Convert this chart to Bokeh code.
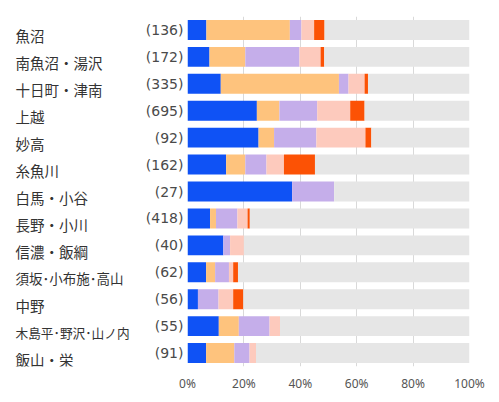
from bokeh.plotting import figure
from bokeh.layouts import row
from bokeh.models import Range1d, FixedTicker, ColumnDataSource
from bokeh.embed import file_html
from bokeh.resources import INLINE

areas = ["魚沼", "南魚沼・湯沢", "十日町・津南", "上越", "妙高", "糸魚川", "白馬・小谷",
         "長野・小川", "信濃・飯綱", "須坂･小布施･高山", "中野", "木島平･野沢･山ノ内", "飯山・栄"]
counts = [136, 172, 335, 695, 92, 162, 27, 418, 40, 62, 56, 55, 91]

s1 = [6.7, 7.8, 11.8, 24.6, 25.2, 13.7, 37.1, 8.0, 12.7, 6.6, 3.7, 11.1, 6.6]
s2 = [29.6, 12.7, 41.9, 8.0, 5.5, 6.8, 0.0, 2.1, 0.0, 3.2, 0.0, 7.1, 10.0]
s3 = [4.1, 19.2, 3.4, 13.4, 15.0, 7.5, 14.9, 7.6, 2.4, 4.9, 7.3, 10.9, 5.4]
s4 = [4.5, 7.5, 5.7, 11.7, 17.4, 6.2, 0.0, 3.6, 4.9, 1.5, 5.2, 3.7, 2.3]
s5 = [3.7, 1.3, 1.2, 5.1, 2.1, 11.0, 0.0, 0.8, 0.0, 1.7, 3.6, 0.0, 0.0]

x_ticks = [0, 20, 40, 60, 80, 100]
x_tick_labels = ["0%", "20%", "40%", "60%", "80%", "100%"]

colors = ["#0f52f5", "#fec37d", "#c5aeea", "#fdcabd", "#fc5205", "#e6e6e6"]
name_sizes = ["14.5px"] * 9 + ["13.5px", "14.5px", "12.7px", "14.5px"]

n = len(areas)
ys = [n - 1 - i for i in range(n)]
rest = [max(0.0, 100 - (a + b + c + d + e)) for a, b, c, d, e in zip(s1, s2, s3, s4, s5)]

src = ColumnDataSource(dict(y=ys, s1=s1, s2=s2, s3=s3, s4=s4, s5=s5, rest=rest))
yr = Range1d(-0.5, n - 0.5)

LW = 140
# left panel with area names
lp = figure(width=LW, height=394, output_backend="svg", toolbar_location=None,
            x_range=Range1d(0, LW), y_range=yr,
            min_border_left=0, min_border_right=0, min_border_top=16, min_border_bottom=24)
lp.outline_line_color = None
lp.axis.visible = False
lp.grid.visible = False
lsrc = ColumnDataSource(dict(y=ys, name=areas, size=name_sizes))
lp.text(x=0, y="y", text="name", source=lsrc, x_offset=15, y_offset=6,
        text_font={"value": "Noto Sans CJK JP"}, text_font_size="size",
        text_color="#333333", text_baseline="middle", text_align="left")

p = figure(width=491 - LW, height=394, output_backend="svg", toolbar_location=None,
           x_range=Range1d(0, 100), y_range=yr,
           min_border_left=187 - LW, min_border_right=22, min_border_top=16, min_border_bottom=24)
p.outline_line_color = None
p.background_fill_color = "white"

p.hbar_stack(["s1", "s2", "s3", "s4", "s5", "rest"], y="y", height=0.74, color=colors,
             line_color=None, source=src)

p.xgrid.ticker = FixedTicker(ticks=x_ticks)
p.xgrid.grid_line_color = "#d9d9d9"
p.xgrid.grid_line_width = 1
p.ygrid.grid_line_color = None

p.xaxis.ticker = FixedTicker(ticks=x_ticks)
p.xaxis.major_label_overrides = {t: l for t, l in zip(x_ticks, x_tick_labels)}
p.xaxis.axis_line_color = None
p.xaxis.major_tick_line_color = None
p.xaxis.minor_tick_line_color = None
p.xaxis.major_tick_out = 0
p.xaxis.minor_tick_out = 0
p.xaxis.major_label_standoff = 8
p.xaxis.major_label_text_font = "Noto Sans"
p.xaxis.major_label_text_font_size = "12px"
p.xaxis.major_label_text_color = "#555555"

p.yaxis.ticker = FixedTicker(ticks=ys)
p.yaxis.major_label_overrides = {y: "(%d)" % c for y, c in zip(ys, counts)}
p.yaxis.axis_line_color = None
p.yaxis.major_tick_line_color = None
p.yaxis.minor_tick_line_color = None
p.yaxis.major_tick_out = 0
p.yaxis.minor_tick_out = 0
p.yaxis.major_label_standoff = 4
p.yaxis.major_label_text_font = "DejaVu Sans"
p.yaxis.major_label_text_font_size = "14px"
p.yaxis.major_label_text_color = "#4a4a4a"

layout = row(lp, p)
open("out.html", "w").write(file_html(layout, INLINE))
